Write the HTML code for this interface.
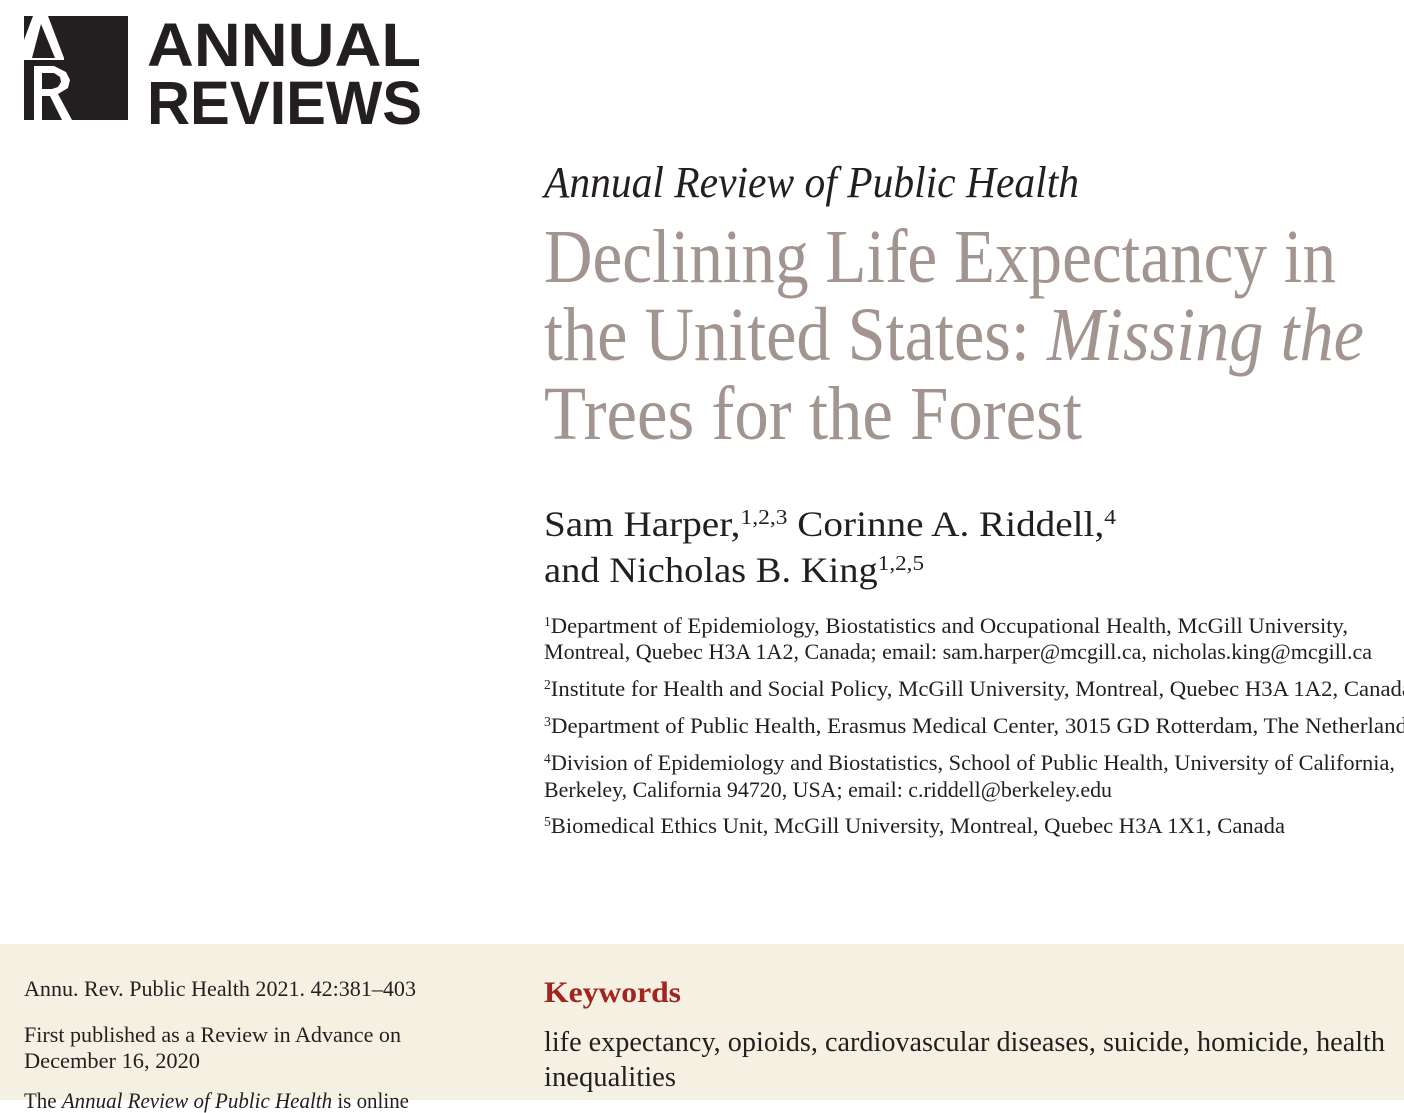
<!DOCTYPE html>
<html><head><meta charset="utf-8"><style>
body{margin:0;width:1404px;height:1100px;overflow:hidden;background:#fff;position:relative;font-family:"Liberation Serif",serif;color:#231f20}
.t{position:absolute;white-space:nowrap;line-height:1;transform-origin:0 0}
sup{font-size:60%;vertical-align:0;position:relative;top:-0.55em}
#beige{position:absolute;left:0;top:944px;width:1404px;height:156px;background:#f4f1e2}
.g{color:#a2958f}
</style></head><body>
<div>
<svg class="t" style="left:24px;top:16px" width="104" height="104">
<rect width="104" height="104" fill="#231f20"/>
<polygon points="9,0 24,0 40,42 31,42 17,8 8,42 0,42 0,24" fill="#fff"/>
<polygon points="0,42 40,42 40,44 0,44" fill="#fff"/>
<polygon points="0,46 42,46 42,48 0,48" fill="#fff" opacity="0"/>
<polygon points="0,44 9,44 9,104 0,104" fill="#fff" opacity="0"/>
<polygon points="10,50 30,50 42,56 46,64 44,72 34,78 48,104 38,104 26,80 18,80 18,104 10,104" fill="#fff"/>
<polygon points="18,57 30,57 36,61 37,66 34,71 28,73 18,73" fill="#231f20"/>
</svg>
<div class="t" data-w="274" style="left:147px;top:10px;font:bold 61px 'Liberation Sans',sans-serif">ANNUAL</div>
<div class="t" data-w="275" style="left:147px;top:68px;font:bold 61px 'Liberation Sans',sans-serif">REVIEWS</div>
</div>
<div class="t" data-w="535" style="left:544px;top:161px;font-size:44px;font-style:italic">Annual Review of Public Health</div>
<div>
<div class="t g" data-w="792" style="left:544px;top:219px;font-size:76px">Declining Life Expectancy in</div>
<div class="t g" data-w="820" style="left:544px;top:297px;font-size:76px">the United States: <i>Missing the</i></div>
<div class="t g" data-w="538" style="left:544px;top:376px;font-size:76px">Trees for the Forest</div>
</div>
<div>
<div class="t" data-w="572" style="left:544px;top:506px;font-size:36px">Sam Harper,<sup>1,2,3</sup> Corinne A. Riddell,<sup>4</sup></div>
<div class="t" data-w="380" style="left:544px;top:552px;font-size:36px">and Nicholas B. King<sup>1,2,5</sup></div>
</div>
<div style="font-size:22px">
<div class="t" data-w="804" style="left:544px;top:615px;font-size:22px"><sup>1</sup>Department of Epidemiology, Biostatistics and Occupational Health, McGill University,</div>
<div class="t" data-w="828" style="left:544px;top:641px;font-size:22px">Montreal, Quebec H3A 1A2, Canada; email: sam.harper@mcgill.ca, nicholas.king@mcgill.ca</div>
<div class="t" data-w="868" style="left:544px;top:678px;font-size:22px"><sup>2</sup>Institute for Health and Social Policy, McGill University, Montreal, Quebec H3A 1A2, Canada</div>
<div class="t" data-w="872" style="left:544px;top:715px;font-size:22px"><sup>3</sup>Department of Public Health, Erasmus Medical Center, 3015 GD Rotterdam, The Netherlands</div>
<div class="t" data-w="851" style="left:544px;top:752px;font-size:22px"><sup>4</sup>Division of Epidemiology and Biostatistics, School of Public Health, University of California,</div>
<div class="t" data-w="568" style="left:544px;top:779px;font-size:22px">Berkeley, California 94720, USA; email: c.riddell@berkeley.edu</div>
<div class="t" data-w="741" style="left:544px;top:815px;font-size:22px"><sup>5</sup>Biomedical Ethics Unit, McGill University, Montreal, Quebec H3A 1X1, Canada</div>
</div>
<div id="beige"></div>
<div class="t" data-w="392" style="left:24px;top:978px;font-size:22px">Annu. Rev. Public Health 2021. 42:381–403</div>
<div class="t" data-w="377" style="left:24px;top:1024px;font-size:22px">First published as a Review in Advance on</div>
<div class="t" data-w="176" style="left:24px;top:1050px;font-size:22px">December 16, 2020</div>
<div class="t" data-w="385" style="left:24px;top:1090px;font-size:22px">The <i>Annual Review of Public Health</i> is online</div>
<div class="t" data-w="137" style="left:544px;top:978px;font-size:30px;font-weight:bold;color:#a3231f">Keywords</div>
<div class="t" data-w="841" style="left:544px;top:1029px;font-size:28px">life expectancy, opioids, cardiovascular diseases, suicide, homicide, health</div>
<div class="t" data-w="132" style="left:544px;top:1064px;font-size:28px">inequalities</div>
<script>
document.querySelectorAll('[data-w]').forEach(function(e){
  var w=e.getBoundingClientRect().width;var t=+e.getAttribute('data-w');
  if(w>0)e.style.transform='scaleX('+(t/w)+')';
});
</script>
</body></html>
